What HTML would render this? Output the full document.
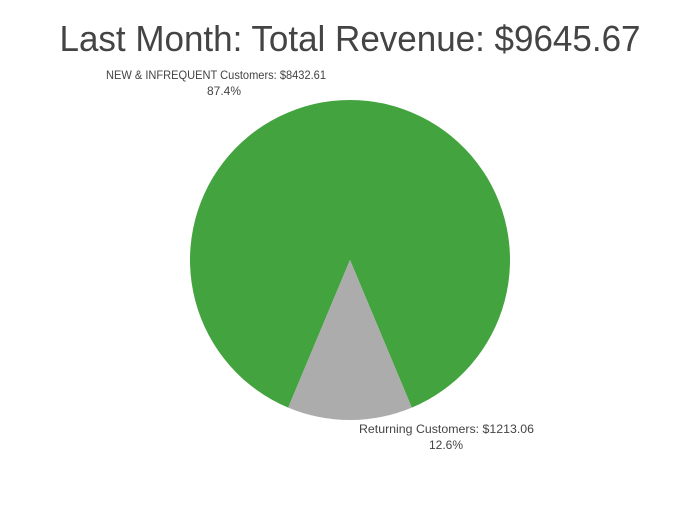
<!DOCTYPE html>
<html><head><meta charset="utf-8"><style>
html,body{margin:0;padding:0;background:#fff;}
body{width:700px;height:500px;overflow:hidden;}
</style></head><body>
<svg width="700" height="500" xmlns="http://www.w3.org/2000/svg" font-family="'Liberation Sans', sans-serif">
<rect width="700" height="500" fill="#fff"/>
<text x="350" y="51" text-anchor="middle" font-size="36" fill="#444" textLength="581" lengthAdjust="spacingAndGlyphs">Last Month: Total Revenue: $9645.67</text>
<path d="M350,260 L288.2,407.6 A160,160 0 1 1 411.8,407.6 Z" fill="#43a33f"/>
<path d="M350,260 L411.8,407.6 A160,160 0 0 1 288.2,407.6 Z" fill="#acacac"/>
<text x="216" y="79" text-anchor="middle" font-size="12" fill="#444" textLength="220" lengthAdjust="spacingAndGlyphs">NEW &amp; INFREQUENT Customers: $8432.61</text>
<text x="224" y="95" text-anchor="middle" font-size="12" fill="#444">87.4%</text>
<text x="446.5" y="433" text-anchor="middle" font-size="12" fill="#444" textLength="175" lengthAdjust="spacingAndGlyphs">Returning Customers: $1213.06</text>
<text x="446" y="449" text-anchor="middle" font-size="12" fill="#444">12.6%</text>
</svg>
</body></html>
